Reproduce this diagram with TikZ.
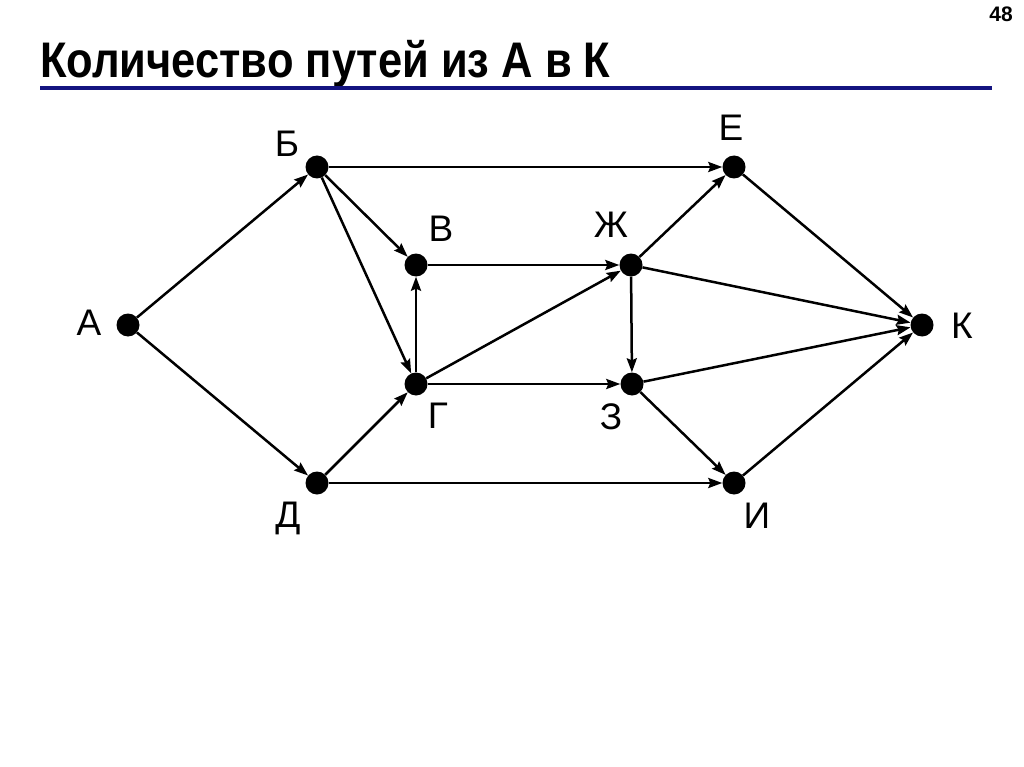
\documentclass[tikz,border=0pt]{standalone}
\usepackage{graphicx}
\usepackage{fontspec}
\setmainfont{Liberation Sans}
\usetikzlibrary{arrows.meta}
\definecolor{rulenavy}{RGB}{20,20,128}

\begin{document}
\begin{tikzpicture}[x=1pt,y=-1pt,
    dot/.style={circle,fill=black,minimum size=23pt,inner sep=0pt},
    lab/.style={inner sep=0pt,font=\fontsize{37}{44}\selectfont},
    arc/.style={line width=2.5pt,-{Stealth[length=14pt,width=10pt,inset=2pt]}}]
  % 画布
  \useasboundingbox[fill=white] (0,0) rectangle (1024,767);
  % 标题与页码
  \node[anchor=base west,inner sep=0pt,font=\bfseries\fontsize{50}{56}\selectfont] (title) at (40,78) {\scalebox{0.87}[1]{Количество путей из А в К}};
  \node[anchor=base east,inner sep=0pt,font=\bfseries\fontsize{21}{24}\selectfont] (page) at (1013,22) {48};
  % 标题下划线
  \coordinate (r1) at (40,88); \coordinate (r2) at (992,88);
  \draw[rulenavy,line width=4pt] (r1) -- (r2);
  % 定义顶点
  \node[dot] (A) at (128,325) {};
  \node[dot] (B) at (317,167) {};
  \node[dot] (V) at (416,265) {};
  \node[dot] (G) at (416,384) {};
  \node[dot] (D) at (317,483) {};
  \node[dot] (E) at (734,167) {};
  \node[dot] (Zh) at (631,265) {};
  \node[dot] (Z) at (632,384) {};
  \node[dot] (I) at (734,483) {};
  \node[dot] (K) at (922,325) {};
  % 标记字母
  \node[lab] (lA) at (89,323) {А};
  \node[lab] (lB) at (287,144) {Б};
  \node[lab] (lV) at (441,229) {В};
  \node[lab] (lG) at (438,416) {Г};
  \node[lab] (lD) at (288,518) {Д};
  \node[lab] (lE) at (731,128) {Е};
  \node[lab] (lZh) at (611,225) {Ж};
  \node[lab] (lZ) at (611,417) {З};
  \node[lab] (lI) at (757,516) {И};
  \node[lab] (lK) at (962,326) {К};
  % 绘制有向边
  \foreach \u/\v in {A/B,A/D,B/E,B/V,B/G,V/Zh,G/V,G/Zh,G/Z,D/G,D/I,
                     Zh/E,Zh/K,Zh/Z,E/K,Z/K,Z/I,I/K}
    \draw[arc] (\u) -- (\v);
\end{tikzpicture}
\end{document}
